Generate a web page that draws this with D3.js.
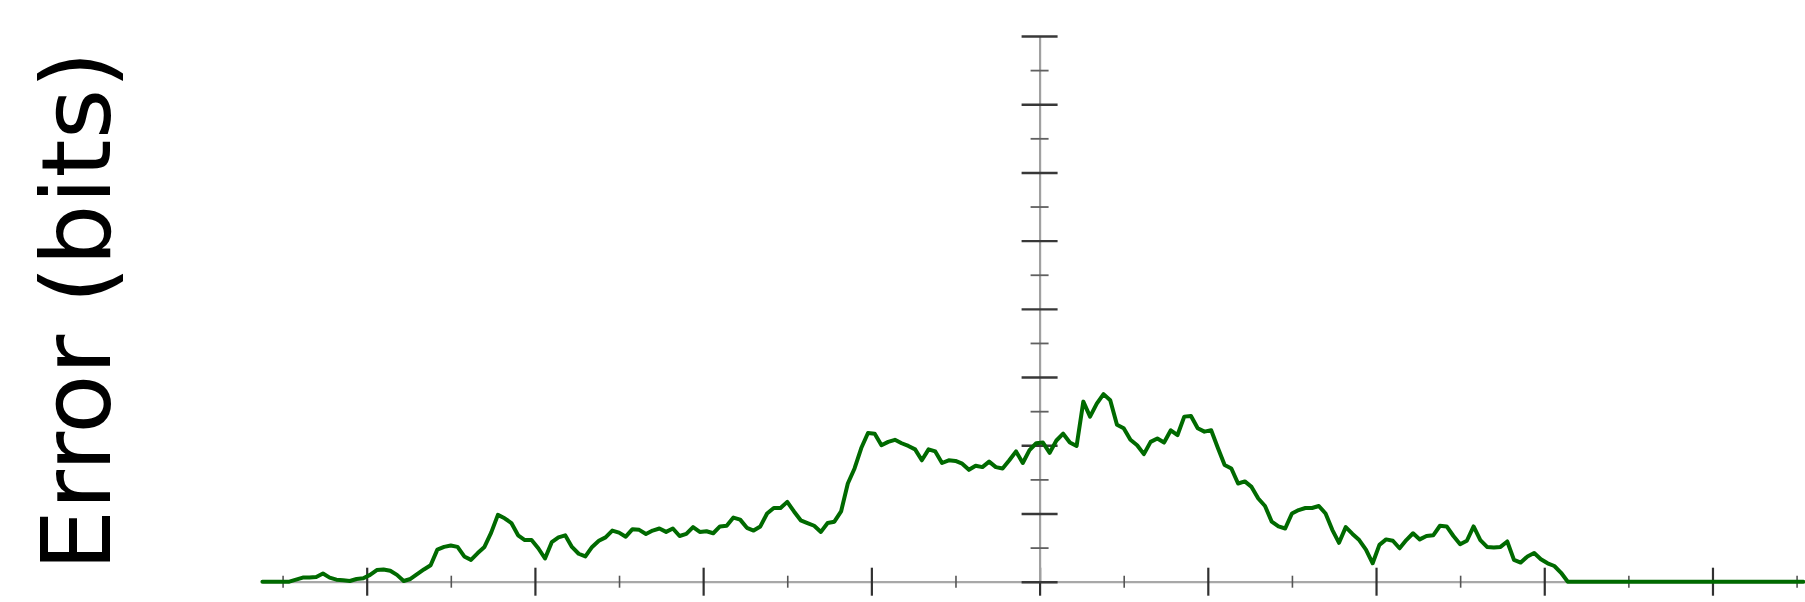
<!DOCTYPE html>
<html>
<head>
<meta charset="utf-8">
<script src="https://cdn.jsdelivr.net/npm/d3@7"></script>
<style>
    html, body { margin: 0; padding: 0; background: #fff; }
    svg { display: block; }
</style>
</head>
<body>
<div id="chart"></div>
<script>
// Sampled error curve (one value every sampleStep along x, starting at sampleStart)
const sampleStart = -4.62;
const sampleStep = 0.04;
const errorBits = [
    0, 0, 0, 0, 0, 0.03, 0.06, 0.06, 0.07, 0.12,
    0.06, 0.03, 0.02, 0.01, 0.04, 0.05, 0.10, 0.17, 0.18, 0.16,
    0.10, 0.01, 0.04, 0.11, 0.18, 0.24, 0.47, 0.51, 0.53, 0.51,
    0.37, 0.32, 0.42, 0.51, 0.72, 0.98, 0.93, 0.86, 0.68, 0.61,
    0.61, 0.49, 0.34, 0.58, 0.65, 0.68, 0.51, 0.41, 0.37, 0.51,
    0.60, 0.65, 0.75, 0.72, 0.66, 0.77, 0.76, 0.70, 0.75, 0.78,
    0.73, 0.78, 0.67, 0.70, 0.80, 0.73, 0.74, 0.71, 0.81, 0.82,
    0.94, 0.91, 0.79, 0.75, 0.81, 1.00, 1.08, 1.08, 1.17, 1.03,
    0.90, 0.86, 0.82, 0.73, 0.86, 0.88, 1.03, 1.44, 1.66, 1.96,
    2.18, 2.17, 2.00, 2.05, 2.08, 2.03, 1.99, 1.94, 1.78, 1.94,
    1.91, 1.74, 1.78, 1.77, 1.73, 1.64, 1.70, 1.68, 1.76, 1.68,
    1.66, 1.78, 1.91, 1.74, 1.93, 2.03, 2.04, 1.89, 2.07, 2.17,
    2.04, 1.99, 2.64, 2.42, 2.61, 2.75, 2.66, 2.30, 2.25, 2.08,
    2.00, 1.87, 2.05, 2.10, 2.04, 2.22, 2.15, 2.42, 2.43, 2.25,
    2.20, 2.22, 1.96, 1.71, 1.66, 1.44, 1.47, 1.39, 1.22, 1.11,
    0.88, 0.81, 0.78, 1.00, 1.05, 1.08, 1.08, 1.11, 1.00, 0.76,
    0.57, 0.80, 0.70, 0.61, 0.47, 0.27, 0.54, 0.62, 0.60, 0.49,
    0.61, 0.71, 0.62, 0.67, 0.68, 0.82, 0.81, 0.67, 0.55, 0.60,
    0.81, 0.61, 0.51, 0.50, 0.51, 0.59, 0.32, 0.28, 0.37, 0.42,
    0.33, 0.27, 0.23, 0.13, 0, 0, 0, 0, 0, 0,
    0, 0, 0, 0, 0, 0, 0, 0, 0, 0,
    0, 0, 0, 0, 0, 0, 0, 0, 0, 0,
    0, 0, 0, 0, 0, 0, 0, 0, 0, 0
];

// Tick positions
const xMajorTicks = [-4, -3, -2, -1, 0, 1, 2, 3, 4];
const xMinorTicks = [-4.5, -3.5, -2.5, -1.5, -0.5, 0.5, 1.5, 2.5, 3.5, 4.5];
const yMajorTicks = [0, 1, 2, 3, 4, 5, 6, 7, 8];
const yMinorTicks = [0.5, 1.5, 2.5, 3.5, 4.5, 5.5, 6.5, 7.5];
const yLabel = 'Error (bits)';

const width = 1805;
const height = 602;

const svg = d3.select('#chart')
    .append('svg')
    .attr('width', width)
    .attr('height', height);

const x = d3.scaleLinear()
    .domain([-4.62, 4.55])
    .range([262.4, 1805]);

const y = d3.scaleLinear()
    .domain([0, 8])
    .range([581.7, 36]);

const x0 = x(0);
const y0 = y(0);

// x axis: line plus ticks centred on the line
function drawXAxis(ticks, size, color, strokeWidth, withDomain) {
    const g = svg.append('g')
        .attr('transform', `translate(0,${y0})`)
        .call(d3.axisBottom(x).tickValues(ticks).tickSize(size).tickSizeOuter(0).tickFormat(''));
    g.selectAll('.tick line')
        .attr('y1', -size)
        .attr('stroke', color)
        .attr('stroke-width', strokeWidth);
    g.selectAll('.tick text').remove();
    if (withDomain) {
        g.select('.domain').attr('stroke', '#a8a8a8').attr('stroke-width', 2.2);
    } else {
        g.select('.domain').remove();
    }
}

// y axis at x = 0
function drawYAxis(ticks, size, color, strokeWidth, withDomain) {
    const g = svg.append('g')
        .attr('transform', `translate(${x0},0)`)
        .call(d3.axisLeft(y).tickValues(ticks).tickSize(size).tickSizeOuter(0).tickFormat(''));
    g.selectAll('.tick line')
        .attr('x1', size)
        .attr('stroke', color)
        .attr('stroke-width', strokeWidth);
    g.selectAll('.tick text').remove();
    if (withDomain) {
        g.select('.domain').attr('stroke', '#a0a0a0').attr('stroke-width', 2.2);
    } else {
        g.select('.domain').remove();
    }
}

drawXAxis(xMajorTicks, 14, '#303030', 2.2, true);
drawXAxis(xMinorTicks, 6, '#555', 1.6, false);
drawYAxis(yMajorTicks, 18, '#383838', 2.4, true);
drawYAxis(yMinorTicks, 9, '#606060', 1.8, false);

// the curve
const points = errorBits.map((v, i) => ({ pos: sampleStart + i * sampleStep, value: v }));

const line = d3.line()
    .x(d => x(d.pos))
    .y(d => y(d.value));

svg.append('path')
    .datum(points)
    .attr('fill', 'none')
    .attr('stroke', '#006a00')
    .attr('stroke-width', 4)
    .attr('stroke-linejoin', 'round')
    .attr('stroke-linecap', 'round')
    .attr('d', line);

// y label
svg.append('text')
    .attr('transform', `translate(110,${311}) rotate(-90)`)
    .attr('text-anchor', 'middle')
    .style('font-family', '"DejaVu Sans", sans-serif')
    .style('font-size', '97px')
    .attr('fill', '#000')
    .text(yLabel);
</script>
</body>
</html>
